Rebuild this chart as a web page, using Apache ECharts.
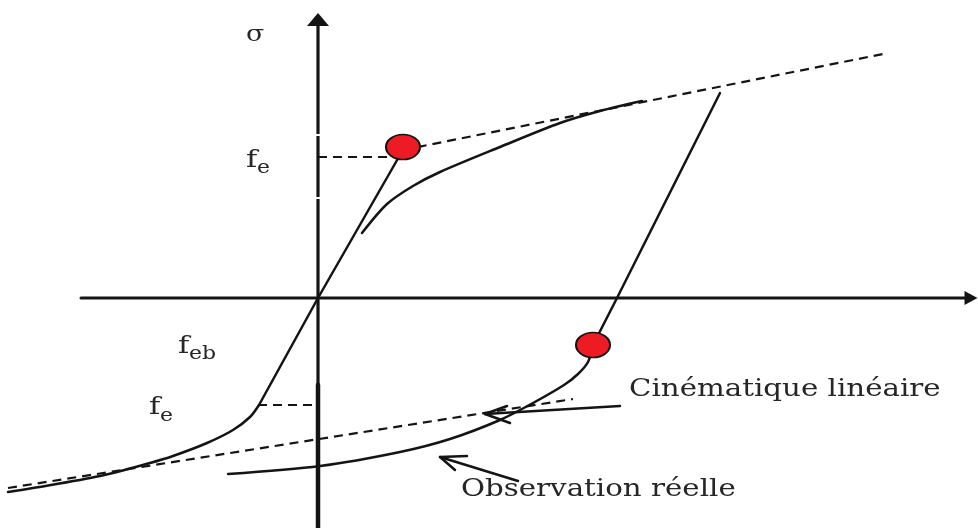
<!DOCTYPE html>
<html>
<head>
<meta charset="utf-8">
<script src="https://cdn.jsdelivr.net/npm/echarts@6/dist/echarts.min.js"></script>
<style>
  html, body { margin: 0; padding: 0; background: #fff; }
  #chart { width: 978px; height: 528px; }
</style>
</head>
<body>
<div id="chart"></div>
<script>
// Stress–strain sketch: strain ε horizontal, stress σ vertical, origin at the axes crossing.

// axes (ends of the drawn axis lines) and arrowhead centres
const sigmaAxisUpper = [[0, -87], [0, 274]];
const sigmaAxisLower = [[0, -230], [0, -87]];
const epsAxis = [[-237, 0], [648, 0]];
const sigmaArrow = [[0, 278.5]];
const epsArrow = [[653, 0]];
const sigmaAxisBreaks = [[0, 163], [0, 100]];

// elastic branch through the origin
const elasticUp = [[0, 0], [82, 143]];
const elasticDown = [[0, 0], [-59, -107]];

// compression branch after yield
const compressionCurve = [[-59, -107], [-68, -119], [-85, -132], [-111, -145], [-145, -158],
  [-168, -165], [-218, -178], [-285, -190], [-310, -194]];

// observed loading curve
const loadingCurve = [[44, 65], [69, 94], [95, 112], [122, 126], [182, 151],
  [242, 175], [282, 187], [324, 197]];

// elastic unloading and reversed loading
const unloadingLine = [[402, 205], [299, 0], [275, -47]];
const reloadingCurve = [[275, -47], [270, -64], [260, -76], [246, -87], [215, -105],
  [182, -122], [132, -141], [82, -154], [2, -168], [-90, -176]];

// linear kinematic hardening lines
const kinematicUp = [[85, 148], [570, 245]];
const kinematicDown = [[-310, -190], [255, -101]];

// yield stress guides
const feUpGuide = [[0, 141], [77, 141]];
const feDownGuide = [[-60, -107], [0, -107]];

// yield points
const yieldPoints = [[85, 151], [275, -47]];

// annotation pointers: shaft and open head
const kinPointerShaft = [[302, -108], [167, -116]];
const kinPointerHead = [[189, -108], [167, -116], [192, -125]];
const obsPointerShaft = [[200, -183], [122, -159]];
const obsPointerHead = [[149, -158], [122, -159], [137, -172]];

const INK = '#141414';
const TEXT = '#262626';
const SERIF = '"DejaVu Serif", "Liberation Serif", serif';

function solid(data, width, smooth) {
  return {
    type: 'line', data: data, symbol: 'none',
    smooth: smooth || false,
    lineStyle: { color: INK, width: width || 2.5, cap: 'round', join: 'round' },
    silent: true, z: 3
  };
}
function dashed(data) {
  return {
    type: 'line', data: data, symbol: 'none',
    lineStyle: { color: INK, width: 2.2, type: [9, 6] }, silent: true, z: 2
  };
}
function label(text, left, top, size) {
  return {
    type: 'text', left: left, top: top, scaleX: 1.22, originX: 0,
    style: { text: text, font: size + 'px ' + SERIF, fill: TEXT }
  };
}

const chart = echarts.init(document.getElementById('chart'), null, { renderer: 'canvas' });

chart.setOption({
  animation: false,
  backgroundColor: '#fff',
  grid: { left: 0, right: 0, top: 0, bottom: 0, containLabel: false },
  xAxis: { type: 'value', min: -318, max: 660, show: false },
  yAxis: { type: 'value', min: -230, max: 298, show: false },
  series: [
    solid(sigmaAxisUpper, 3.2),
    solid(sigmaAxisLower, 4.5),
    solid(epsAxis, 3),
    {
      type: 'scatter', data: sigmaAxisBreaks, symbol: 'rect', symbolSize: [8, 2],
      itemStyle: { color: '#fff', opacity: 1 }, silent: true, z: 4
    },
    {
      type: 'scatter', data: sigmaArrow, symbol: 'triangle', symbolSize: [22, 13],
      itemStyle: { color: INK, opacity: 1 }, silent: true, z: 4
    },
    {
      type: 'scatter', data: epsArrow, symbol: 'triangle', symbolSize: [14, 13], symbolRotate: -90,
      itemStyle: { color: INK, opacity: 1 }, silent: true, z: 4
    },
    solid(elasticUp),
    solid(elasticDown),
    solid(compressionCurve, 2.5, 0.3),
    solid(loadingCurve, 2.5, 0.3),
    solid(unloadingLine),
    solid(reloadingCurve, 2.5, 0.3),
    dashed(kinematicUp),
    dashed(kinematicDown),
    dashed(feUpGuide),
    dashed(feDownGuide),
    solid(kinPointerShaft),
    solid(kinPointerHead),
    solid(obsPointerShaft),
    solid(obsPointerHead),
    {
      type: 'scatter', data: yieldPoints, symbol: 'circle', symbolSize: [34, 25],
      itemStyle: { color: '#ed1c24', borderColor: INK, borderWidth: 1.8, opacity: 1 },
      silent: true, z: 5
    }
  ],
  graphic: [
    label('σ', 246, 24, 22),
    label('f', 246, 148, 25),
    label('e', 257, 159, 18),
    label('f', 178, 334, 25),
    label('eb', 189, 345, 18),
    label('f', 149, 395, 25),
    label('e', 160, 407, 18),
    label('Cinématique linéaire', 629, 378, 24),
    label('Observation réelle', 461, 478, 24)
  ]
});
</script>
</body>
</html>
